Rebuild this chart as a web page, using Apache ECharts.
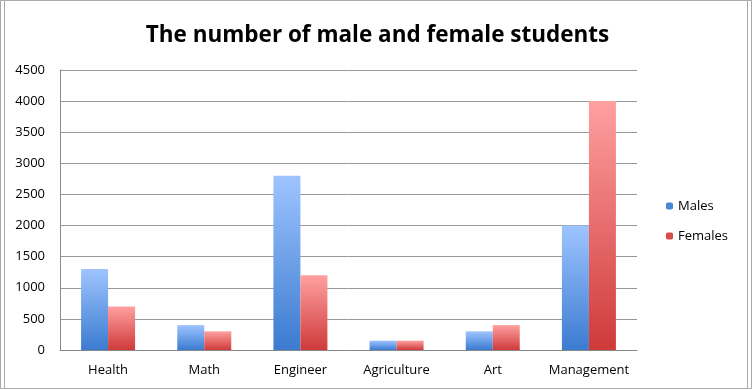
<!DOCTYPE html>
<html><head><meta charset="utf-8">
<script src="https://cdn.jsdelivr.net/npm/echarts@6/dist/echarts.min.js"></script>
<style>html,body{margin:0;padding:0;background:#fff}#c{width:755px;height:390px}</style>
</head><body><div id="c"></div>
<script>
const categories = ['Health','Math','Engineer','Agriculture','Art','Management'];
const males = [1300, 400, 2800, 150, 300, 2000];
const females = [700, 300, 1200, 150, 400, 4000];
const yTicks = {min: 0, max: 4500, interval: 500};

const chart = echarts.init(document.getElementById('c'));
function grad(top, bottom){
  return new echarts.graphic.LinearGradient(0,0,0,1,[{offset:0,color:top},{offset:1,color:bottom}]);
}
const font = '"Open Sans", sans-serif';
chart.setOption({
  animation: false,
  title: {text: 'The number of male and female students', left: 'center', top: 19,
    textStyle: {fontFamily: font, fontWeight: 'bold', fontSize: 22.5, color: '#000'}},
  legend: {orient: 'vertical', left: 666, top: 199, padding: 0, itemWidth: 7, itemHeight: 7, itemGap: 16,
    textStyle: {fontFamily: font, fontSize: 13, color: '#000', lineHeight: 14},
    data: [{name:'Males', itemStyle:{color:'#4a86d8'}}, {name:'Females', itemStyle:{color:'#d94a4a'}}]},
  grid: {left: 60, right: 118, top: 70, bottom: 40},
  xAxis: {type: 'category', data: categories,
    axisLine: {lineStyle: {color: '#888'}}, axisTick: {show: false},
    axisLabel: {fontFamily: font, fontSize: 13, color: '#000', margin: 14, interval: 0}},
  yAxis: {type: 'value', min: yTicks.min, max: yTicks.max, interval: yTicks.interval,
    axisLine: {show: true, lineStyle: {color: '#888'}}, axisTick: {show: false},
    splitLine: {lineStyle: {color: '#999'}},
    axisLabel: {fontFamily: font, fontSize: 13, color: '#000', margin: 15, formatter: v => String(v)}},
  series: [
    {name: 'Males', type: 'bar', data: males, barWidth: 27, barGap: '0%',
      itemStyle: {color: grad('#9ec4ff', '#3b7bd0')}},
    {name: 'Females', type: 'bar', data: females, barWidth: 27,
      itemStyle: {color: grad('#ffa0a0', '#cf3a3a')}}
  ],
  graphic: [
    {type:'rect', shape:{x:0.5,y:0.5,width:751,height:388}, style:{fill:'none',stroke:'#aaa',lineWidth:1}},
    {type:'rect', shape:{x:4.5,y:0.5,width:743,height:388}, style:{fill:'none',stroke:'#aaa',lineWidth:1}}
  ]
});
</script></body></html>
